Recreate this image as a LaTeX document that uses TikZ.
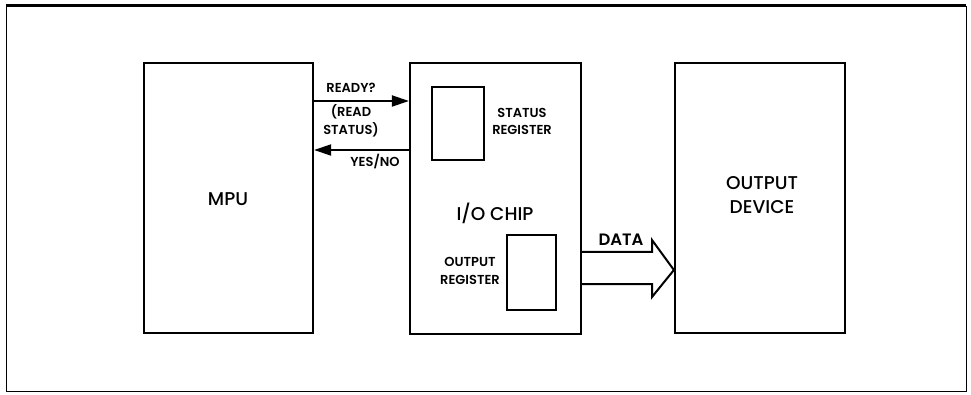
\documentclass[tikz,border=0pt]{standalone}
\usepackage{fontspec}
\setmainfont{Poppins}
\newfontfamily\medfont{Poppins Medium}
\newfontfamily\semifont{Poppins SemiBold}
\usetikzlibrary{arrows.meta}
\begin{document}
\begin{tikzpicture}[x=1pt,y=-1pt,
  blk/.style={draw,line width=2.2pt,inner sep=0pt},
  reg/.style={draw,line width=1.8pt,inner sep=0pt},
  small/.style={font=\fontsize{13}{17.5}\semifont,inner sep=0pt,align=center},
  big/.style={font=\fontsize{18.5}{24}\medfont,inner sep=0pt,align=center},
  sig/.style={line width=2pt,-{Triangle[length=17pt,width=11pt]}}]
\useasboundingbox (0,0) rectangle (971,395);
\draw[line width=1pt] (6,7) rectangle (966,391);
\draw[line width=3pt] (6,6) -- (966,6);
% boxes
\node[blk,minimum width=169pt,minimum height=270pt] (mpu) at (228.5,198) {};
\node[blk,minimum width=171pt,minimum height=271pt] (io) at (495.5,198.5) {};
\node[blk,minimum width=170pt,minimum height=270pt] (dev) at (760,198) {};
\node[reg,minimum width=52pt,minimum height=73pt] (sr) at (458,123.5) {};
\node[reg,minimum width=49pt,minimum height=75pt] (or) at (531.5,272.5) {};
% labels
\node[big] (tmpu) at (228,199) {MPU};
\node[big] (tio) at (495,213) {I/O CHIP};
\node[big] (tdev) at (762,195) {OUTPUT\\DEVICE};
\node[small] (tsr) at (522,121.5) {STATUS\\REGISTER};
\node[small] (tor) at (470,271) {OUTPUT\\REGISTER};
\node[small] (tready) at (351,88) {READY?};
\node[small] (tread) at (351,121) {(READ\\STATUS)};
\node[small] (tyes) at (375,162) {YES/NO};
\node[font=\fontsize{16.5}{18}\semifont,inner sep=0pt] (tdata) at (621,240) {DATA};
% signal arrows
\coordinate (r1) at (mpu.east |- 0,101);
\coordinate (r2) at (io.west |- 0,101);
\coordinate (y1) at (io.west |- 0,150);
\coordinate (y2) at (mpu.east |- 0,150);
\draw[sig] (r1) -- (r2);
\draw[sig] (y1) -- (y2);
% data arrow
\coordinate (d1) at (io.east |- 0,252);
\coordinate (d2) at (652,252);
\coordinate (d3) at (652,240);
\coordinate (d4) at (dev.west |- 0,270);
\coordinate (d5) at (652,297);
\coordinate (d6) at (652,284);
\coordinate (d7) at (io.east |- 0,284);
\draw[line width=2pt,line join=miter] (d1) -- (d2) -- (d3) -- (d4) -- (d5) -- (d6) -- (d7);
\end{tikzpicture}
\end{document}
